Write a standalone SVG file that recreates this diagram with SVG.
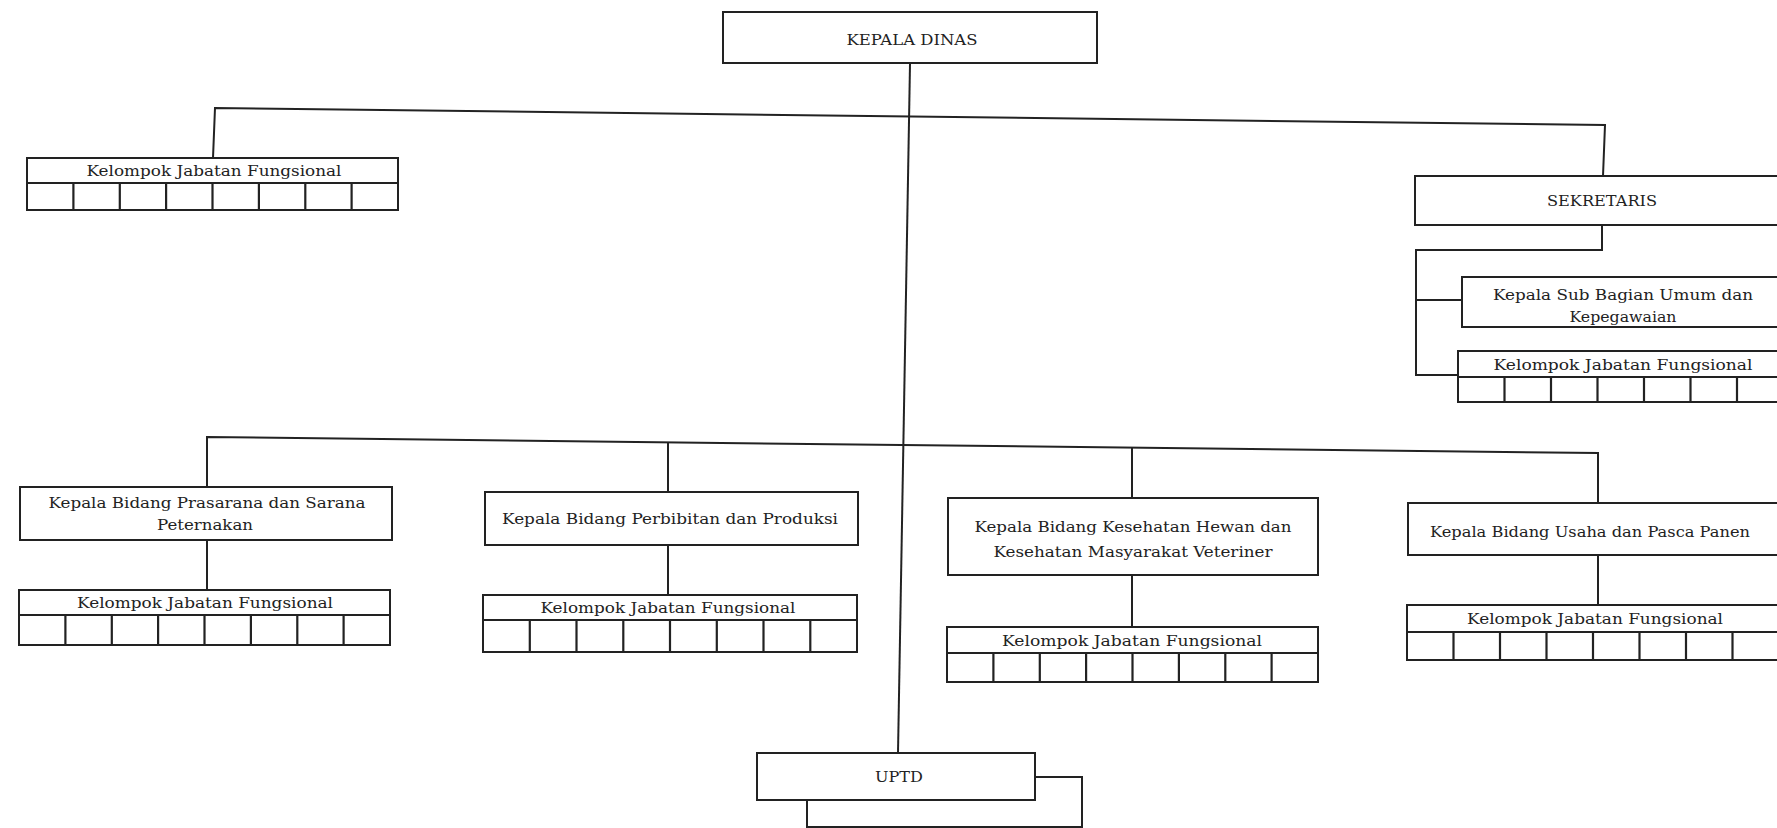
<svg xmlns="http://www.w3.org/2000/svg" width="1777" height="828" viewBox="0 0 1777 828">
<style>
.bx{fill:#fff;stroke:#222;stroke-width:2}
.ln{fill:none;stroke:#222;stroke-width:2}
.cl{stroke:#222;stroke-width:2.2}
text{font-family:"DejaVu Serif","Liberation Serif",serif;font-size:15.5px;fill:#222;text-anchor:middle;dominant-baseline:central;lengthAdjust:spacingAndGlyphs}
</style>
<rect width="1777" height="828" fill="#fff"/>
<g id="connectors">
<path class="ln" d="M910 64 L898 753"/>
<path class="ln" d="M213 158 L215 108 L1605 125 L1603 176"/>
<path class="ln" d="M207 487 L207 437 L1598 453 L1598 503"/>
<path class="ln" d="M668 442 L668 492"/>
<path class="ln" d="M1132 448 L1132 498"/>
<path class="ln" d="M207 540 L207 590"/>
<path class="ln" d="M668 545 L668 595"/>
<path class="ln" d="M1132 575 L1132 627"/>
<path class="ln" d="M1598 555 L1598 605"/>
<path class="ln" d="M1602 225 L1602 250 L1416 250 L1416 375 L1458 375"/>
<path class="ln" d="M1416 300 L1462 300"/>
</g>
<g id="kepala-dinas">
<rect class="bx" x="723" y="12" width="374" height="51"/>
<text x="912" y="40" textLength="131" lengthAdjust="spacingAndGlyphs">KEPALA DINAS</text>
</g>
<g id="kjf-pimpinan">
<rect class="bx" x="27" y="158" width="371" height="52"/>
<path class="cl" d="M27 183 H398 M73.4 183 V210 M119.8 183 V210 M166.1 183 V210 M212.5 183 V210 M258.9 183 V210 M305.3 183 V210 M351.6 183 V210"/>
<text x="214" y="171" textLength="255" lengthAdjust="spacingAndGlyphs">Kelompok Jabatan Fungsional</text>
</g>
<g id="sekretaris">
<rect class="bx" x="1415" y="176" width="400" height="49"/>
<text x="1602" y="201" textLength="110" lengthAdjust="spacingAndGlyphs">SEKRETARIS</text>
</g>
<g id="kasubag-umum">
<rect class="bx" x="1462" y="277" width="360" height="50"/>
<text x="1623" y="295" textLength="260" lengthAdjust="spacingAndGlyphs">Kepala Sub Bagian Umum dan</text>
<text x="1623" y="317" textLength="107" lengthAdjust="spacingAndGlyphs">Kepegawaian</text>
</g>
<g id="kjf-sekretariat">
<rect class="bx" x="1458" y="351" width="372" height="51"/>
<path class="cl" d="M1458 377 H1830 M1504.5 377 V402 M1551 377 V402 M1597.5 377 V402 M1644 377 V402 M1690.5 377 V402 M1737 377 V402 M1783.5 377 V402"/>
<text x="1623" y="365" textLength="259" lengthAdjust="spacingAndGlyphs">Kelompok Jabatan Fungsional</text>
</g>
<g id="bidang-prasarana">
<rect class="bx" x="20" y="487" width="372" height="53"/>
<text x="207" y="503" textLength="317" lengthAdjust="spacingAndGlyphs">Kepala Bidang Prasarana dan Sarana</text>
<text x="205" y="525" textLength="96" lengthAdjust="spacingAndGlyphs">Peternakan</text>
</g>
<g id="kjf-prasarana">
<rect class="bx" x="19" y="590" width="371" height="55"/>
<path class="cl" d="M19 615 H390 M65.4 615 V645 M111.8 615 V645 M158.1 615 V645 M204.5 615 V645 M250.9 615 V645 M297.3 615 V645 M343.6 615 V645"/>
<text x="205" y="603" textLength="256" lengthAdjust="spacingAndGlyphs">Kelompok Jabatan Fungsional</text>
</g>
<g id="bidang-perbibitan">
<rect class="bx" x="485" y="492" width="373" height="53"/>
<text x="670" y="519" textLength="336" lengthAdjust="spacingAndGlyphs">Kepala Bidang Perbibitan dan Produksi</text>
</g>
<g id="kjf-perbibitan">
<rect class="bx" x="483" y="595" width="374" height="57"/>
<path class="cl" d="M483 620 H857 M529.8 620 V652 M576.5 620 V652 M623.3 620 V652 M670 620 V652 M716.8 620 V652 M763.5 620 V652 M810.3 620 V652"/>
<text x="668" y="608" textLength="255" lengthAdjust="spacingAndGlyphs">Kelompok Jabatan Fungsional</text>
</g>
<g id="bidang-kesehatan">
<rect class="bx" x="948" y="498" width="370" height="77"/>
<text x="1133" y="527" textLength="317" lengthAdjust="spacingAndGlyphs">Kepala Bidang Kesehatan Hewan dan</text>
<text x="1133" y="552" textLength="279" lengthAdjust="spacingAndGlyphs">Kesehatan Masyarakat Veteriner</text>
</g>
<g id="kjf-kesehatan">
<rect class="bx" x="947" y="627" width="371" height="55"/>
<path class="cl" d="M947 653 H1318 M993.4 653 V682 M1039.8 653 V682 M1086.1 653 V682 M1132.5 653 V682 M1178.9 653 V682 M1225.3 653 V682 M1271.6 653 V682"/>
<text x="1132" y="641" textLength="260" lengthAdjust="spacingAndGlyphs">Kelompok Jabatan Fungsional</text>
</g>
<g id="bidang-usaha">
<rect class="bx" x="1408" y="503" width="400" height="52"/>
<text x="1590" y="532" textLength="320" lengthAdjust="spacingAndGlyphs">Kepala Bidang Usaha dan Pasca Panen</text>
</g>
<g id="kjf-usaha">
<rect class="bx" x="1407" y="605" width="372" height="55"/>
<path class="cl" d="M1407 632 H1779 M1453.5 632 V660 M1500 632 V660 M1546.5 632 V660 M1593 632 V660 M1639.5 632 V660 M1686 632 V660 M1732.5 632 V660"/>
<text x="1595" y="619" textLength="256" lengthAdjust="spacingAndGlyphs">Kelompok Jabatan Fungsional</text>
</g>
<g id="uptd">
<rect class="bx" x="807" y="777" width="275" height="50"/>
<rect class="bx" x="757" y="753" width="278" height="47"/>
<text x="899" y="777" textLength="48" lengthAdjust="spacingAndGlyphs">UPTD</text>
</g>
</svg>
